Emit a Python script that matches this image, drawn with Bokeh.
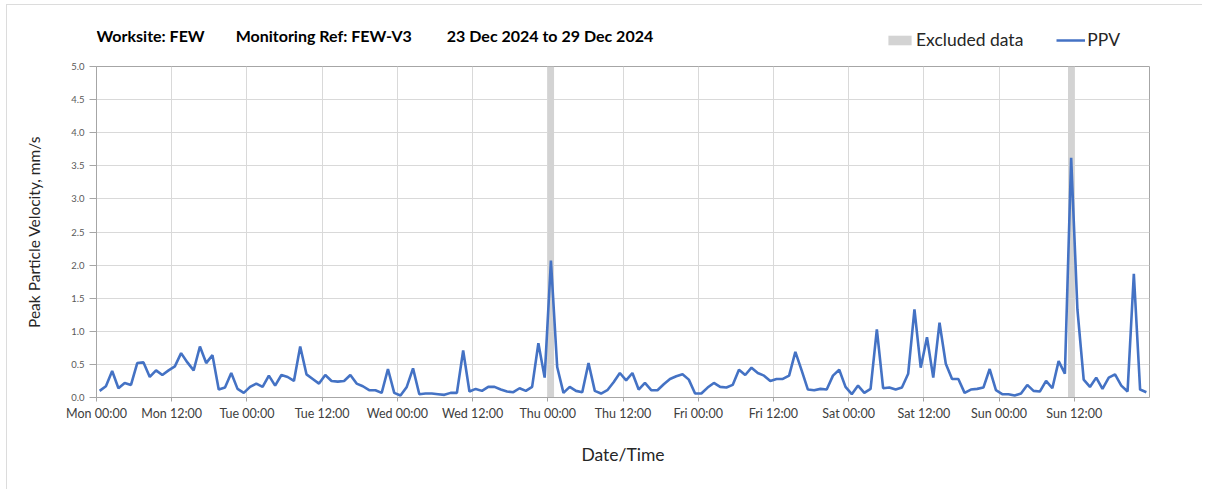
import pandas as pd
from bokeh.plotting import figure
from bokeh.layouts import column
from bokeh.models import (FixedTicker, DatetimeTickFormatter, Legend, LegendItem,
                          Range1d, ColumnDataSource, CustomJSTickFormatter, Label)
from bokeh.embed import file_html
from bokeh.resources import INLINE

# ---- data ----
ppv = [0.10, 0.17, 0.40, 0.14, 0.22, 0.19, 0.52, 0.53, 0.31, 0.41, 0.34, 0.41,
       0.47, 0.67, 0.53, 0.41, 0.77, 0.52, 0.64, 0.12, 0.15, 0.37, 0.13, 0.07,
       0.16, 0.21, 0.16, 0.33, 0.18, 0.34, 0.31, 0.25, 0.77, 0.35, 0.28, 0.21,
       0.34, 0.25, 0.24, 0.25, 0.34, 0.21,
       0.17, 0.11, 0.11, 0.07, 0.43, 0.07, 0.03, 0.16, 0.44, 0.05, 0.06, 0.06,
       0.05, 0.04, 0.07, 0.07, 0.71, 0.09, 0.13, 0.10, 0.16, 0.16, 0.12, 0.09,
       0.08, 0.14, 0.10, 0.16, 0.82, 0.30, 2.07, 0.46, 0.07, 0.16, 0.10, 0.08,
       0.52, 0.10, 0.06, 0.11, 0.23, 0.37,
       0.26, 0.37, 0.12, 0.22, 0.11, 0.11, 0.20, 0.28, 0.32, 0.35, 0.27, 0.06,
       0.06, 0.15, 0.22, 0.16, 0.15, 0.19, 0.42, 0.34, 0.45, 0.37, 0.33, 0.25,
       0.28, 0.28, 0.33, 0.69, 0.41, 0.12, 0.11, 0.13, 0.12, 0.33, 0.42, 0.16,
       0.05, 0.18, 0.07, 0.13, 1.03, 0.14, 0.15,
       0.12, 0.15, 0.36, 1.33, 0.45, 0.91, 0.30, 1.13, 0.51, 0.28, 0.28, 0.07,
       0.12, 0.13, 0.15, 0.43, 0.11, 0.05, 0.05, 0.03, 0.06, 0.19, 0.10, 0.09,
       0.25, 0.14, 0.55, 0.36, 3.62, 1.33, 0.27, 0.16, 0.30, 0.13, 0.30, 0.35,
       0.18, 0.09, 1.87, 0.12, 0.08]
first_reading = "2024-12-23 00:30"
excluded_start = ["2024-12-26 00:00", "2024-12-29 11:00"]
excluded_end = ["2024-12-26 01:00", "2024-12-29 12:00"]
period_start = "2024-12-23 00:00"
period_end = "2024-12-30 00:00"
tick_times = pd.date_range("2024-12-23 00:00", "2024-12-29 12:00", freq="12h")
y_ticks = [0.0, 0.5, 1.0, 1.5, 2.0, 2.5, 3.0, 3.5, 4.0, 4.5, 5.0]
title_text = ("Worksite: FEW" + "\u00a0" * 8 + "Monitoring Ref: FEW-V3" + "\u00a0" * 9
              + "23 Dec 2024 to 29 Dec 2024")

times = pd.date_range(first_reading, periods=len(ppv), freq="h")
src = ColumnDataSource(dict(t=times, v=ppv))
exc = ColumnDataSource(dict(l=pd.to_datetime(excluded_start), r=pd.to_datetime(excluded_end),
                            b=[0, 0], tp=[5, 5]))

FONT = "Lato"
EXC_COLOR = "#d3d3d3"
PPV_COLOR = "#4472C4"
W, H_HEAD, H_MAIN = 1195, 56, 428
FRAME_W = W - 89 - 53

# ---- header (title + legend); its frame is aligned with the chart frame ----
head = figure(width=W, height=H_HEAD, x_range=Range1d(0, FRAME_W), y_range=Range1d(0, H_HEAD),
              x_axis_type=None, y_axis_type=None, output_backend="svg",
              toolbar_location=None, min_border=0, outline_line_color=None)
head.xgrid.visible = False
head.ygrid.visible = False
head.add_layout(Label(x=0, y=26.5, text=title_text, text_font=FONT, text_font_size="16px",
                      text_font_style="bold", text_color="#000000", text_baseline="middle"))
hq = head.quad(left="l", right="r", bottom="b", top="tp", source=exc,
               fill_color=EXC_COLOR, line_color=None)
hl = head.line("t", "v", source=src, line_color=PPV_COLOR, line_width=2.5)
legend = Legend(items=[LegendItem(label="Excluded data", renderers=[hq]),
                       LegendItem(label="PPV", renderers=[hl])],
                orientation="horizontal", location=(789, 11),
                glyph_width=29, glyph_height=12, label_standoff=2, spacing=33,
                padding=0, margin=0, border_line_alpha=0, background_fill_alpha=0,
                label_text_font=FONT, label_text_font_size="17.5px",
                label_text_color="#262626")
head.add_layout(legend)

# ---- main chart ----
p = figure(width=W, height=H_MAIN, x_axis_type="datetime",
           x_range=Range1d(pd.Timestamp(period_start), pd.Timestamp(period_end)),
           y_range=Range1d(0, 5), output_backend="svg", toolbar_location=None,
           min_border_left=89, min_border_top=5, min_border_right=53, min_border_bottom=92)

p.quad(left="l", right="r", bottom="b", top="tp", source=exc,
       fill_color=EXC_COLOR, line_color=None)
p.line("t", "v", source=src, line_color=PPV_COLOR, line_width=2.6)

p.xaxis.ticker = FixedTicker(ticks=[t.value / 1e6 for t in tick_times])
fmt = "%a %H:%M"
p.xaxis.formatter = DatetimeTickFormatter(hours=fmt, hourmin=fmt, days=fmt, minutes=fmt,
                                          minsec=fmt, months=fmt, years=fmt)
p.yaxis.ticker = FixedTicker(ticks=y_ticks)
p.yaxis.formatter = CustomJSTickFormatter(code="return tick.toFixed(1);")
for ax in (p.xaxis[0], p.yaxis[0]):
    ax.axis_line_color = "#a6a6a6"
    ax.major_tick_line_color = "#a6a6a6"
    ax.minor_tick_line_color = None
    ax.major_tick_in = 0
    ax.major_label_text_font = FONT
    ax.axis_label_text_font = FONT
    ax.axis_label_text_font_style = "normal"
    ax.axis_label_text_color = "#262626"

p.xaxis.major_tick_out = 4
p.xaxis.major_label_text_font_size = "12.5px"
p.xaxis.major_label_text_color = "#404040"
p.xaxis.major_label_standoff = 4
p.xaxis.axis_label = "Date/Time"
p.xaxis.axis_label_text_font_size = "17.5px"
p.xaxis.axis_label_standoff = 20

p.yaxis.major_tick_out = 7
p.yaxis.major_label_text_font_size = "9.5px"
p.yaxis.major_label_text_color = "#595959"
p.yaxis.major_label_standoff = 5
p.yaxis.axis_label = "Peak Particle Velocity, mm/s"
p.yaxis.axis_label_text_font_size = "15.5px"
p.yaxis.axis_label_standoff = 25

p.xgrid.grid_line_color = "#d9d9d9"
p.ygrid.grid_line_color = "#d9d9d9"
p.outline_line_color = "#a6a6a6"

layout = column(head, p, spacing=0)
layout.styles = {"margin-left": "6px", "margin-top": "4px",
                 "border-left": "1px solid #dcdcdc", "border-top": "1px solid #dcdcdc"}

open("out.html", "w").write(file_html(layout, INLINE))
